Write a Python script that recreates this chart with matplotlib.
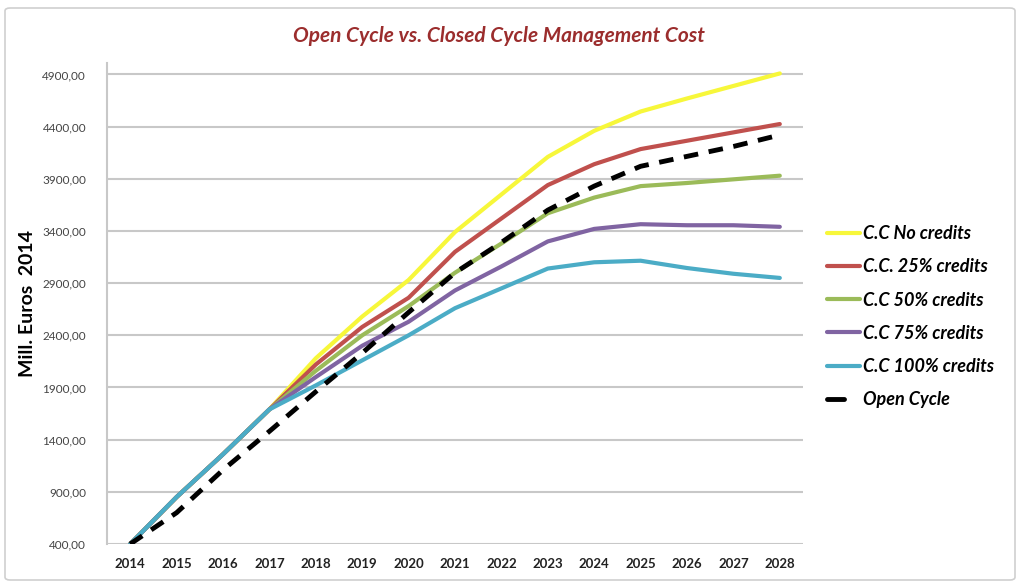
import matplotlib
matplotlib.use("Agg")
import matplotlib.pyplot as plt
from matplotlib.patches import FancyBboxPatch
from matplotlib.ticker import FixedLocator, FuncFormatter

years = list(range(2014, 2029))
cc_no_credits = [400, 850, 1260, 1690, 2180, 2580, 2930, 3390, 3750, 4110, 4360, 4545, 4670, 4790, 4910]
cc_25 = [400, 850, 1260, 1690, 2120, 2480, 2760, 3200, 3520, 3840, 4040, 4185, 4265, 4345, 4425]
cc_50 = [400, 850, 1260, 1690, 2060, 2400, 2680, 3000, 3280, 3570, 3720, 3830, 3860, 3895, 3930]
cc_75 = [400, 850, 1260, 1690, 2000, 2300, 2530, 2830, 3060, 3300, 3420, 3465, 3455, 3455, 3440]
cc_100 = [400, 850, 1260, 1690, 1920, 2160, 2400, 2660, 2850, 3040, 3100, 3115, 3045, 2990, 2950]
open_cycle = [400, 700, 1110, 1480, 1860, 2230, 2620, 3000, 3290, 3600, 3830, 4020, 4115, 4210, 4320]
labels = ["C.C No credits", "C.C. 25% credits", "C.C 50% credits",
          "C.C 75% credits", "C.C 100% credits", "Open Cycle"]
y_ticks = [400, 900, 1400, 1900, 2400, 2900, 3400, 3900, 4400, 4900]

plt.rcParams['font.family'] = ['Lato', 'DejaVu Sans']

fig = plt.figure(figsize=(10.24, 5.88), dpi=100)
# outer frame
fig.patches.append(FancyBboxPatch((5/1024, 8/588), 1010/1024, 572/588,
                                  boxstyle="round,pad=0,rounding_size=0.005",
                                  transform=fig.transFigure, fill=False,
                                  edgecolor="#CFCFCF", linewidth=1.2))

ax = fig.add_axes([107/1024, 1-544/588, (803-107)/1024, (544-63)/588])

series = [cc_no_credits, cc_25, cc_50, cc_75, cc_100]
colors = ["#F7F73A", "#C0504D", "#9BBB59", "#8064A2", "#4BACC6"]
for vals, c, lab in zip(series, colors, labels[:5]):
    ax.plot(years, vals, color=c, linewidth=3, label=lab, solid_capstyle='round', zorder=3)
ax.plot(years, open_cycle, color="black", linewidth=3.5, dashes=(3, 2.2),
        label=labels[5], zorder=4)

ax.set_xlim(2013.5, 2028.5)
ax.set_ylim(400, 5010)
ax.yaxis.set_major_locator(FixedLocator(y_ticks))
ax.yaxis.set_major_formatter(FuncFormatter(lambda v, p: f"{v:.2f}".replace('.', ',')))
ax.set_xticks(years)
ax.set_xticklabels([str(y) for y in years], fontsize=9.5, fontweight='bold', color="#222222")
for t in ax.get_yticklabels():
    t.set_fontsize(8.5)
    t.set_color("#444444")
ax.tick_params(axis='x', length=0, pad=10)
ax.tick_params(axis='y', length=0, pad=15)
ax.grid(axis='y', color="#C8C8C8", linewidth=1.5, zorder=0)
for s in ['top', 'right', 'bottom']:
    ax.spines[s].set_visible(False)
ax.spines['left'].set_color("#C8C8C8")
ax.spines['left'].set_linewidth(1.5)

ax.set_ylabel("Mill. Euros  2014", fontsize=14, fontweight='bold', color="black")
ax.yaxis.set_label_coords(-0.102, 0.5)

fig.text(499/1024, 1-36/588, "Open Cycle vs. Closed Cycle Management Cost",
         ha='center', va='center', fontsize=15, fontweight='bold', style='italic',
         color="#9B2D2D")

leg = ax.legend(loc='upper left', frameon=False,
                prop={'size': 13, 'weight': 'bold', 'style': 'italic'},
                handlelength=1.85, labelspacing=0.9, handletextpad=0.12,
                borderpad=0, borderaxespad=0)
leg.set_bbox_to_anchor((827/1024, 1-225/588), transform=fig.transFigure)
# the reference shows a single short dash for the Open Cycle entry
oc_line = leg.get_lines()[5]
xd = oc_line.get_xdata()
oc_line.set_xdata([xd[0], xd[0] + 0.5 * (xd[-1] - xd[0])])
oc_line.set_ydata([oc_line.get_ydata()[0]] * 2)
oc_line.set_linestyle('-')
oc_line.set_solid_capstyle('round')

fig.savefig("out.png", dpi=100)
